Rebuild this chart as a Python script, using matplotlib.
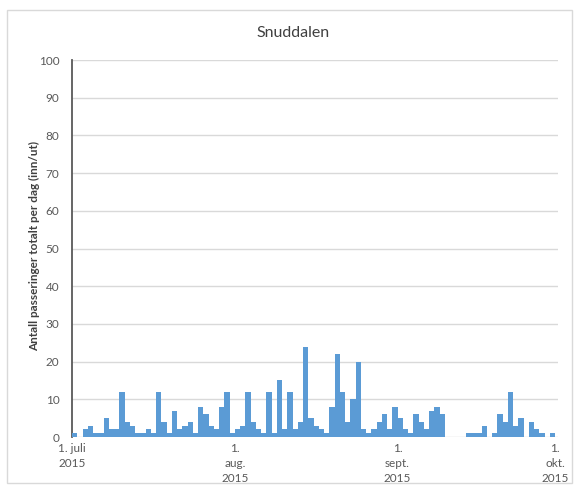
import matplotlib
matplotlib.use("Agg")
import matplotlib.pyplot as plt
import matplotlib.dates as mdates
from matplotlib.patches import Rectangle
import pandas as pd

title = "Snuddalen"
ylabel = "Antall passeringer totalt per dag (inn/ut)"
start_date = "2015-07-01"
values = [1, 0, 2, 3, 1, 1, 5, 2, 2, 12,
          4, 3, 1, 1, 2, 1, 12, 4, 1, 7,
          2, 3, 4, 1, 8, 6, 3, 2, 8, 12,
          1, 2, 3, 12, 4, 2, 1, 12, 1, 15,
          2, 12, 2, 4, 24, 5, 3, 2, 1, 8,
          22, 12, 4, 10, 20, 2, 1, 2, 4, 6,
          2, 8, 5, 2, 1, 6, 4, 2, 7, 8,
          6, 0, 0, 0, 0, 1, 1, 1, 3, 0,
          1, 6, 4, 12, 3, 5, 0, 4, 2, 1,
          0, 1]
tick_dates = ["2015-07-01", "2015-08-01", "2015-09-01", "2015-10-01"]
tick_labels = ["1. juli\n2015", "1.\naug.\n2015", "1.\nsept.\n2015", "1.\nokt.\n2015"]
yticks = [0, 10, 20, 30, 40, 50, 60, 70, 80, 90, 100]

plt.rcParams['font.family'] = ['Lato', 'DejaVu Sans']

W, H = 575, 486
fig = plt.figure(figsize=(W / 100, H / 100), dpi=100)
fig.patches.append(Rectangle((7 / W, 1 - 483 / H), (572 - 7) / W, (483 - 10) / H,
                             transform=fig.transFigure, fill=False,
                             edgecolor="#d9d9d9", linewidth=1))

ax = fig.add_axes([72 / W, 1 - 437 / H, (558 - 72) / W, (437 - 60) / H])
dates = pd.date_range(start_date, periods=len(values), freq="D")
ax.bar(dates, values, width=1.0, align="edge", color="#5b9bd5", linewidth=0, zorder=3)

x0 = mdates.date2num(pd.Timestamp(start_date))
x_oct = mdates.date2num(pd.Timestamp(tick_dates[-1]))
ax.set_xlim(x0, x_oct + 0.57)
ax.set_ylim(0, 100)

ax.set_yticks(yticks)
ax.set_yticklabels([str(v) for v in yticks])
ax.grid(axis="y", color="#d9d9d9", linewidth=1, zorder=0)
ax.tick_params(axis="y", length=0, pad=9, labelsize=8.5, labelcolor="#595959")

ax.set_xticks([mdates.date2num(pd.Timestamp(d)) for d in tick_dates])
ax.set_xticklabels(tick_labels, linespacing=1.45)
ax.tick_params(axis="x", length=0, pad=4, labelsize=8.5, labelcolor="#595959")

for s in ["top", "right", "bottom"]:
    ax.spines[s].set_visible(False)
ax.spines["left"].set_color("#595959")
ax.spines["left"].set_linewidth(1.3)

fig.text(293 / W, 1 - 33 / H, title, ha="center", va="center", fontsize=11.5, color="#404040")
fig.text(35 / W, 1 - 246 / H, ylabel, ha="center", va="center", rotation=90,
         fontsize=8.5, color="#404040", fontweight="bold")

fig.savefig("out.png", dpi=100)
